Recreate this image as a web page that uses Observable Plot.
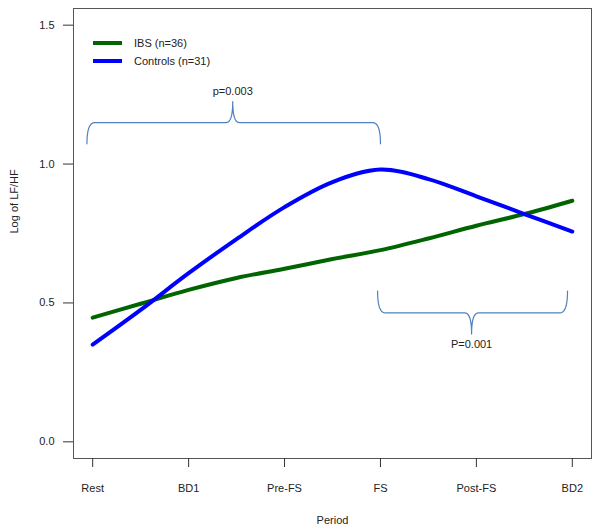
<!DOCTYPE html>
<html><head><meta charset="utf-8">
<script src="https://cdn.jsdelivr.net/npm/d3@7"></script>
<script src="https://cdn.jsdelivr.net/npm/@observablehq/plot@0.6"></script>
<style>
body{margin:0;background:#fff;font-family:"Liberation Sans",Arial,sans-serif;}
#wrap{position:relative;width:600px;height:530px;}
.legend{position:absolute;left:93px;top:34px;font-size:11px;color:#222;line-height:18px}
.legend div{display:flex;align-items:center;height:18px}
.legend span.sw{display:inline-block;width:29px;height:4px;margin-right:12px}
</style></head><body><div id="wrap"></div>
<script>
// Periods (x categories)
const periods = ["Rest", "BD1", "Pre-FS", "FS", "Post-FS", "BD2"];
// Smoothed curve sample positions (period index)
const t = [0, 0.5, 1, 1.5, 2, 2.5, 3, 3.5, 4, 4.5, 5];
const ibs = [0.447, 0.497, 0.547, 0.59, 0.623, 0.658, 0.69, 0.732, 0.778, 0.82, 0.868];
const controls = [0.35, 0.475, 0.607, 0.73, 0.845, 0.935, 0.98, 0.946, 0.884, 0.82, 0.757];
const seriesNames = ["IBS (n=36)", "Controls (n=31)"];
const seriesColors = ["#006400", "#0000ff"];
const yTicks = [0, 0.5, 1.0, 1.5];
// Significance brackets (in data units)
const bracketLabels = ["p=0.003", "P=0.001"];
const bracketFrom = [-0.06, 2.97];
const bracketTo = [3.0, 4.95];
const bracketCenter = [1.46, 3.95];
const bracketEnd = [1.073, 0.543];
const bracketMid = [1.149, 0.464];
const bracketTip = [1.225, 0.388];
const bracketText = [1.261, 0.352];

const data = [];
seriesNames.forEach((s, k) => {
  const vals = k === 0 ? ibs : controls;
  t.forEach((x, i) => data.push({x, y: vals[i], s}));
});

function quad(p0, c, p1, n = 10) {
  const out = [];
  for (let i = 0; i <= n; i++) {
    const u = i / n;
    out.push([
      (1-u)*(1-u)*p0[0] + 2*(1-u)*u*c[0] + u*u*p1[0],
      (1-u)*(1-u)*p0[1] + 2*(1-u)*u*c[1] + u*u*p1[1]
    ]);
  }
  return out;
}
const braceData = [];
const brackets = bracketLabels.map((label, i) => ({
  label, xc: bracketCenter[i], yText: bracketText[i]
}));
bracketLabels.forEach((label, i) => {
  const x0 = bracketFrom[i], x1 = bracketTo[i], xc = bracketCenter[i];
  const ye = bracketEnd[i], ym = bracketMid[i], yt = bracketTip[i];
  const dc = 0.08, dm = 0.07;
  const pts = [
    ...quad([x0, ye], [x0, ym], [x0 + dc, ym]),
    ...quad([xc - dm, ym], [xc, ym], [xc, yt]),
    ...quad([xc, yt], [xc, ym], [xc + dm, ym]),
    ...quad([x1 - dc, ym], [x1, ym], [x1, ye])
  ];
  pts.forEach(([x, y]) => braceData.push({id: label, x, y}));
});

const chart = Plot.plot({
  width: 600, height: 530,
  marginLeft: 73, marginRight: 9, marginTop: 8, marginBottom: 72,
  style: {fontFamily: "'Liberation Sans', Arial, sans-serif", fontSize: "11px", color: "#222", background: "#fff"},
  x: {domain: [-0.2, 5.2]},
  y: {domain: [-0.06, 1.56]},
  color: {domain: seriesNames, range: seriesColors},
  marks: [
    Plot.frame({stroke: "#555"}),
    Plot.axisY(yTicks, {tickSize: 10, tickPadding: 9, tickFormat: d3.format(".1f"), label: null, stroke: "#333"}),
    Plot.axisX(d3.range(periods.length), {tickSize: 9, tickPadding: 17, tickFormat: i => periods[i], label: null, stroke: "#333"}),
    Plot.text(["Period"], {frameAnchor: "bottom", dy: 65, fill: "#222"}),
    Plot.text(["Log of LF/HF"], {frameAnchor: "left", dx: -59, rotate: -90, fill: "#222"}),
    Plot.line(braceData, {x: "x", y: "y", z: "id", stroke: "#4f81bd", strokeWidth: 1.2}),
    Plot.text(brackets, {x: "xc", y: "yText", text: "label", fill: "#222"}),
    Plot.line(data, {x: "x", y: "y", z: "s", stroke: "s", curve: "catmull-rom", strokeWidth: 4})
  ]
});
const wrap = document.getElementById("wrap");
wrap.appendChild(chart);
const legend = document.createElement("div");
legend.className = "legend";
seriesNames.forEach((s, i) => {
  const row = document.createElement("div");
  const sw = document.createElement("span");
  sw.className = "sw";
  sw.style.background = seriesColors[i];
  row.appendChild(sw);
  row.appendChild(document.createTextNode(s));
  legend.appendChild(row);
});
wrap.appendChild(legend);
</script>
</body></html>
